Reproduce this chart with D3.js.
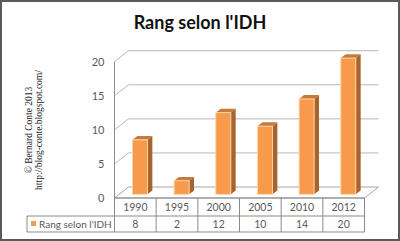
<!DOCTYPE html>
<html>
<head>
<meta charset="utf-8">
<script src="https://cdnjs.cloudflare.com/ajax/libs/d3/7.8.5/d3.min.js"></script>
<style>
  body { margin: 0; background: #fff; }
  svg { display: block; }
</style>
</head>
<body>
<div id="chart"></div>
<script>
// data
var years = ["1990", "1995", "2000", "2005", "2010", "2012"];
var rang = [8, 2, 12, 10, 14, 20];
var yTicks = [0, 5, 10, 15, 20];
var seriesName = "Rang selon l'IDH";
var titleText = "Rang selon l'IDH";
var credits = ["\u00A9 Bernard Conte 2013", "http://blog-conte.blogspot.com/"];

var W = 400, H = 241;
var font = "Lato, 'Liberation Sans', sans-serif";

var svg = d3.select("#chart").append("svg")
    .attr("width", W)
    .attr("height", H);

// frame
svg.append("rect")
    .attr("x", 1).attr("y", 1)
    .attr("width", W - 2).attr("height", H - 2)
    .attr("fill", "#fff")
    .attr("stroke", "#5a5a5a")
    .attr("stroke-width", 2);

// title
svg.append("text")
    .attr("x", 200).attr("y", 29)
    .attr("text-anchor", "middle")
    .style("font-family", font)
    .style("font-weight", "bold")
    .style("font-size", "18px")
    .attr("fill", "#111")
    .text(titleText);

// scales (front plane)
var x = d3.scaleBand()
    .domain(years)
    .range([114.5, 364.5]);

var y = d3.scaleLinear()
    .domain([0, 20])
    .range([198, 61.7]);

// depth offset for the 3D look
var dx = 14, dy = -11;
function P(px, py, f) { return [px + f * dx, py + f * dy]; }
var line = d3.line();

var x0 = x.range()[0], x1 = x.range()[1];

// floor
svg.append("path")
    .attr("d", line([P(x0, y(0), 0), P(x0, y(0), 1), P(x1, y(0), 1), P(x1, y(0), 0)]) + "Z")
    .attr("fill", "#fff")
    .attr("stroke", "#a6a6a6")
    .attr("stroke-width", 1);

// gridlines on side + back wall
svg.append("g").selectAll("path")
    .data(yTicks.filter(function(t) { return t > 0; }))
  .enter().append("path")
    .attr("d", function(t) { return line([P(x0, y(t), 0), P(x0, y(t), 1), P(x1, y(t), 1)]); })
    .attr("fill", "none")
    .attr("stroke", "#b8b8b8")
    .attr("stroke-width", 1);

// vertical axis line
svg.append("path")
    .attr("d", line([[x0, y(20)], [x0, y(0)]]))
    .attr("stroke", "#8c8c8c")
    .attr("stroke-width", 1);

// y tick labels
var yAxis = d3.axisLeft(y)
    .tickValues(yTicks)
    .tickSize(0)
    .tickPadding(10);

var gy = svg.append("g")
    .attr("transform", "translate(" + x0 + ",0)")
    .call(yAxis);
gy.select(".domain").remove();
gy.selectAll("text")
    .style("font-family", font)
    .style("font-size", "11px")
    .attr("fill", "#595959");

// bars
var f1 = 0.33, f2 = 0.68;
var barW = x.bandwidth() * 0.36;

var bars = svg.append("g").selectAll("g")
    .data(years.map(function(yr, i) { return {year: yr, value: rang[i]}; }))
  .enter().append("g");

bars.append("path") // side
    .attr("d", function(d) {
      var bx1 = x(d.year) + (x.bandwidth() + barW) / 2;
      return line([P(bx1, y(d.value), f1), P(bx1, y(d.value), f2), P(bx1, y(0), f2), P(bx1, y(0), f1)]) + "Z";
    })
    .attr("fill", "#a7642c");

bars.append("path") // top
    .attr("d", function(d) {
      var bx0 = x(d.year) + (x.bandwidth() - barW) / 2, bx1 = bx0 + barW;
      return line([P(bx0, y(d.value), f1), P(bx1, y(d.value), f1), P(bx1, y(d.value), f2), P(bx0, y(d.value), f2)]) + "Z";
    })
    .attr("fill", "#c57b3c");

bars.append("rect") // front
    .attr("x", function(d) { return P(x(d.year) + (x.bandwidth() - barW) / 2, 0, f1)[0]; })
    .attr("y", function(d) { return P(0, y(d.value), f1)[1]; })
    .attr("width", barW)
    .attr("height", function(d) { return y(0) - y(d.value); })
    .attr("fill", "#f79a4b")
    .attr("stroke", "#fcd3a8")
    .attr("stroke-width", 1);

// data table
var r0 = 198, r1 = 216, r2 = 232, legX = 27;
var tableLines = svg.append("g")
    .attr("stroke", "#8a8a8a")
    .attr("stroke-width", 1)
    .attr("fill", "none");

tableLines.append("path").attr("d", line([[x0, r0], [x1, r0]]));
tableLines.append("path").attr("d", line([[legX, r1], [x1, r1]]));
tableLines.append("path").attr("d", line([[legX, r2], [x1, r2]]));
tableLines.append("path").attr("d", line([[legX, r1], [legX, r2]]));
tableLines.selectAll(".vl")
    .data(years.map(function(yr) { return x(yr); }).concat([x1]))
  .enter().append("path")
    .attr("class", "vl")
    .attr("d", function(v) { return line([[v, r0], [v, r2]]); });

svg.append("g").selectAll("text")
    .data(years)
  .enter().append("text")
    .attr("x", function(d) { return x(d) + x.bandwidth() / 2; })
    .attr("y", r0 + 13)
    .attr("text-anchor", "middle")
    .style("font-family", font)
    .style("font-size", "10.5px")
    .attr("fill", "#595959")
    .text(function(d) { return d; });

svg.append("g").selectAll("text")
    .data(rang)
  .enter().append("text")
    .attr("x", function(d, i) { return x(years[i]) + x.bandwidth() / 2; })
    .attr("y", r1 + 12)
    .attr("text-anchor", "middle")
    .style("font-family", font)
    .style("font-size", "10.5px")
    .attr("fill", "#595959")
    .text(function(d) { return d; });

// legend key in table
svg.append("rect")
    .attr("x", 31).attr("y", 221)
    .attr("width", 5).attr("height", 5)
    .attr("fill", "#f79a4b");

svg.append("text")
    .attr("x", 39).attr("y", r1 + 12)
    .style("font-family", font)
    .style("font-size", "10px")
    .attr("fill", "#595959")
    .text(seriesName);

// credits, rotated
svg.append("g").selectAll("text")
    .data(credits)
  .enter().append("text")
    .attr("transform", function(d, i) { return "translate(" + (32 + i * 9.5) + ",130) rotate(-90)"; })
    .attr("text-anchor", "middle")
    .style("font-family", "'Liberation Serif', 'DejaVu Serif', serif")
    .style("font-size", "9.5px")
    .attr("fill", "#222")
    .text(function(d) { return d; });
</script>
</body>
</html>
